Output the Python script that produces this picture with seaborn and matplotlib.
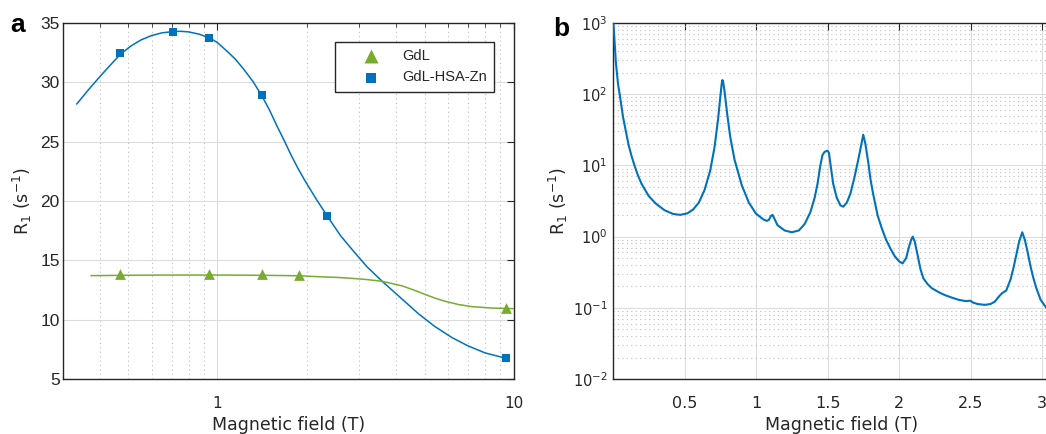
import numpy as np
import pandas as pd
import matplotlib
matplotlib.use("Agg")
import matplotlib.pyplot as plt
from matplotlib.ticker import LogLocator, FixedLocator, NullFormatter, FixedFormatter
import seaborn as sns

# ---------------- data: panel a ----------------
gdl_field = [0.47, 0.94, 1.41, 1.88, 9.4]
gdl_r1 = [13.87, 13.87, 13.87, 13.74, 10.98]
hsa_field = [0.47, 0.71, 0.94, 1.41, 2.35, 9.4]
hsa_r1 = [32.45, 34.22, 33.75, 28.9, 18.7, 6.8]

hsa_fit_field = [0.335, 0.365, 0.40, 0.435, 0.472, 0.51, 0.55, 0.60, 0.65, 0.709,
                 0.752, 0.80, 0.87, 0.944, 1.0, 1.08, 1.15, 1.23, 1.32, 1.41, 1.5,
                 1.59, 1.68, 1.77, 1.87, 1.98, 2.15, 2.36, 2.6, 2.85, 3.2, 3.6,
                 4.15, 4.77, 5.4, 6.18, 7.0, 8.0, 9.4]
hsa_fit_r1 = [28.17, 29.3, 30.45, 31.45, 32.4, 33.05, 33.55, 33.95, 34.17, 34.28,
              34.3, 34.25, 34.05, 33.72, 33.35, 32.6, 31.95, 31.07, 30.05, 28.9, 27.65,
              26.3, 25.1, 23.9, 22.75, 21.66, 20.2, 18.65, 17.1, 15.9, 14.45, 13.23,
              11.85, 10.5, 9.45, 8.5, 7.8, 7.2, 6.75]
gdl_fit_field = [0.374, 0.5, 0.7, 1.0, 1.4, 1.88, 2.2, 2.5, 2.85, 3.2, 3.6, 4.2,
                 4.6, 5.03, 5.45, 5.87, 6.5, 7.22, 8.43, 9.4, 10.0]
gdl_fit_r1 = [13.71, 13.74, 13.76, 13.76, 13.74, 13.7, 13.62, 13.57, 13.48, 13.38,
              13.23, 12.85, 12.5, 12.12, 11.8, 11.55, 11.28, 11.1, 10.98, 10.95, 10.93]

# ---------------- data: panel b ----------------
b_field = [0.003, 0.01, 0.02, 0.035, 0.05, 0.07, 0.09, 0.11, 0.13, 0.15, 0.175, 0.2,
           0.25, 0.3, 0.36, 0.42, 0.47, 0.52, 0.56, 0.6, 0.64, 0.68, 0.71, 0.735,
           0.75, 0.76, 0.765, 0.77, 0.78, 0.8, 0.82, 0.85, 0.9, 0.95, 1.0, 1.05,
           1.075, 1.09, 1.105, 1.115, 1.125, 1.15, 1.2, 1.25, 1.3, 1.34, 1.38, 1.41,
           1.43, 1.45, 1.465, 1.48, 1.5, 1.51, 1.525, 1.54, 1.565, 1.59, 1.61,
           1.635, 1.66, 1.69, 1.715, 1.735, 1.75, 1.765, 1.785, 1.8, 1.82, 1.85,
           1.88, 1.91, 1.94, 1.97, 2.0, 2.025, 2.05, 2.07, 2.085, 2.096, 2.11,
           2.13, 2.15, 2.17, 2.2, 2.23, 2.28, 2.32, 2.37, 2.42, 2.47, 2.497, 2.52,
           2.55, 2.6, 2.64, 2.67, 2.7, 2.72, 2.75, 2.78, 2.8, 2.82, 2.84, 2.862,
           2.88, 2.9, 2.92, 2.94, 2.96, 2.99, 3.03]
b_r1 = [1000, 600, 280, 140, 90, 48, 30, 19, 13.5, 10, 7.2, 5.5,
        3.7, 2.9, 2.35, 2.08, 2.02, 2.12, 2.4, 3.0, 4.5, 8.5, 18, 45,
        90, 140, 158, 150, 110, 50, 25, 12, 5.3, 3.0, 2.1, 1.75,
        1.66, 1.72, 1.95, 2.02, 1.85, 1.45, 1.22, 1.15, 1.22, 1.5, 2.2, 3.5,
        5.5, 10, 14, 15.5, 16.1, 15, 9, 5.5, 3.5, 2.75, 2.63,
        3.0, 4.0, 7, 12, 19, 27, 20, 11, 6.5, 3.9, 2.0,
        1.3, 0.9, 0.68, 0.53, 0.45, 0.42, 0.5, 0.72, 0.9, 1.0, 0.85,
        0.55, 0.35, 0.26, 0.215, 0.188, 0.165, 0.151, 0.139, 0.129, 0.124, 0.126, 0.118,
        0.113, 0.11, 0.113, 0.122, 0.145, 0.16, 0.175, 0.25, 0.36, 0.55, 0.85, 1.15,
        0.9, 0.6, 0.38, 0.26, 0.19, 0.13, 0.1]

a_yticks = [5, 10, 15, 20, 25, 30, 35]
b_xticks = [0.5, 1, 1.5, 2, 2.5, 3]
b_xticklabels = ["0.5", "1", "1.5", "2", "2.5", "3"]

BLUE = "#0072BD"
GREEN = "#77AC30"
AXC = "#262626"

sns.set_style("white")
plt.rcParams["font.family"] = ["DejaVu Sans"]
plt.rcParams["mathtext.default"] = "regular"

fig = plt.figure(figsize=(10.46, 4.34), dpi=100)
W, H = 1046.0, 434.0
axA = fig.add_axes([62.5 / W, (H - 379) / H, (513.7 - 62.5) / W, 356 / H])
axB = fig.add_axes([613 / W, (H - 379) / H, (143 * 3.2) / W, 356 / H])

# ---------------- panel a ----------------
sns.lineplot(x=hsa_fit_field, y=hsa_fit_r1, ax=axA, color=BLUE, lw=1.1,
             sort=False, estimator=None, zorder=3)
sns.lineplot(x=gdl_fit_field, y=gdl_fit_r1, ax=axA, color=GREEN, lw=1.1,
             sort=False, estimator=None, zorder=3)
sns.scatterplot(x=gdl_field, y=gdl_r1, ax=axA, marker="^", s=60, color=GREEN,
                edgecolor=GREEN, linewidth=0, label="GdL", zorder=4)
sns.scatterplot(x=hsa_field, y=hsa_r1, ax=axA, marker="s", s=30, color=BLUE,
                edgecolor=BLUE, linewidth=0, label="GdL-HSA-Zn", zorder=4)
axA.set_xscale("log")
axA.set_xlim(0.3, 10)
axA.set_ylim(5, 35)
axA.xaxis.set_major_locator(FixedLocator([1, 10]))
axA.xaxis.set_major_formatter(FixedFormatter(["1", "10"]))
axA.xaxis.set_minor_locator(FixedLocator([0.3, 0.4, 0.5, 0.6, 0.7, 0.8, 0.9,
                                           2, 3, 4, 5, 6, 7, 8, 9]))
axA.xaxis.set_minor_formatter(NullFormatter())
axA.set_yticks(a_yticks)
axA.grid(True, which="major", color="#dcdcdc", lw=0.8, ls="-")
axA.grid(True, which="minor", axis="x", color="#bdbdbd", lw=0.8, ls=(0, (1, 3)))
for lab in axA.get_yticklabels():
    lab.set_family(["Liberation Sans"])
    lab.set_fontsize(12.5)
for lab in axA.get_xticklabels():
    lab.set_fontsize(11)
axA.set_xlabel("Magnetic field (T)", fontsize=12.5, color=AXC, labelpad=4)
axA.set_ylabel(r"R$_1$ (s$^{-1}$)", fontsize=12.5, color=AXC)
axA.yaxis.set_label_coords(-0.063, 0.5)
leg = axA.legend(loc="upper right", bbox_to_anchor=(0.956, 0.947), borderaxespad=0,
                 frameon=True, fancybox=False, edgecolor=AXC, framealpha=1,
                 prop={"family": "Liberation Sans", "size": 10.5}, markerscale=1.3,
                 handletextpad=0.1, borderpad=0.5, labelspacing=0.5, handlelength=4.0)
leg.get_frame().set_linewidth(1.0)

# ---------------- panel b ----------------
sns.lineplot(x=b_field, y=b_r1, ax=axB, color=BLUE, lw=1.5, sort=False,
             estimator=None, zorder=3)
axB.set_yscale("log")
axB.set_xlim(0, 3.2)
axB.set_ylim(1e-2, 1e3)
axB.set_xticks(b_xticks)
axB.set_xticklabels(b_xticklabels)
axB.yaxis.set_major_locator(LogLocator(base=10, numticks=10))
axB.yaxis.set_minor_locator(LogLocator(base=10, subs=np.arange(2, 10), numticks=20))
axB.yaxis.set_minor_formatter(NullFormatter())
axB.grid(True, which="major", color="#dcdcdc", lw=0.8, ls="-")
axB.grid(True, which="minor", axis="y", color="#bdbdbd", lw=0.8, ls=(0, (1, 3)))
for lab in axB.get_xticklabels():
    lab.set_fontsize(11.5)
for lab in axB.get_yticklabels():
    lab.set_fontsize(10.5)
axB.set_xlabel("Magnetic field (T)", fontsize=12.5, color=AXC, labelpad=4)
axB.set_ylabel(r"R$_1$ (s$^{-1}$)", fontsize=12.5, color=AXC)
axB.yaxis.set_label_coords(-0.094, 0.5)

for ax in (axA, axB):
    for sp in ax.spines.values():
        sp.set_visible(True)
        sp.set_color(AXC)
        sp.set_linewidth(1.0)
    ax.tick_params(which="both", direction="in", top=True, right=True,
                   colors=AXC, labelcolor=AXC)
    ax.tick_params(which="major", length=5, width=0.8)
    ax.tick_params(which="minor", length=3, width=0.6)
    ax.tick_params(axis="x", which="major", pad=12)
    ax.set_axisbelow(True)
axA.tick_params(axis="y", which="major", pad=2)
axB.tick_params(axis="y", which="major", pad=4)

fig.text(10 / W, 1 - 32 / H, "a", fontsize=19, fontweight="bold",
         family=["Liberation Sans"], color="black")
fig.text(553 / W, 1 - 36 / H, "b", fontsize=19, fontweight="bold",
         family=["Liberation Sans"], color="black")

fig.savefig("out.png", dpi=100)
